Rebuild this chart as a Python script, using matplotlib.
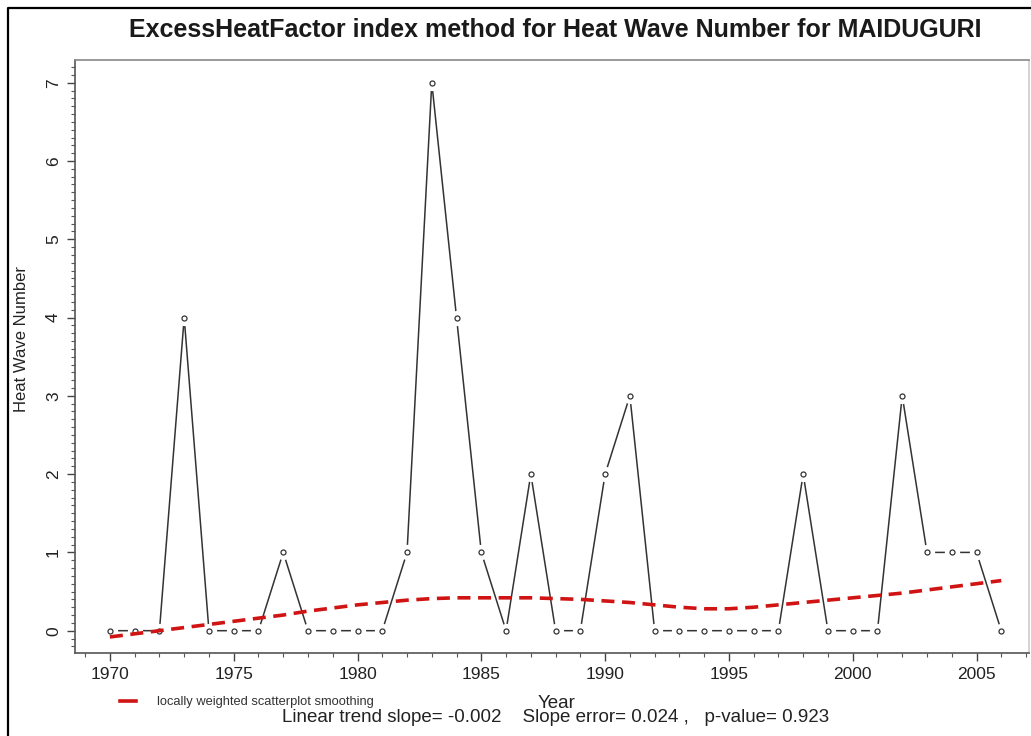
import numpy as np
import matplotlib
matplotlib.use("Agg")
import matplotlib.pyplot as plt
from matplotlib.ticker import MultipleLocator
from matplotlib.lines import Line2D

plt.rcParams['font.family'] = ['Liberation Sans', 'DejaVu Sans']

# Annual heat wave counts (Excess Heat Factor method), Maiduguri
years = list(range(1970, 2007))
heat_waves = [0, 0, 0, 4, 0, 0, 0, 1, 0, 0, 0, 0, 1, 7, 4, 1, 0, 2, 0, 0,
              2, 3, 0, 0, 0, 0, 0, 0, 2, 0, 0, 0, 3, 1, 1, 1, 0]

# Locally weighted scatterplot smoothing of the counts
lowess_fit = [-0.08, -0.04, 0.00, 0.04, 0.08, 0.12, 0.16, 0.20, 0.25, 0.29,
              0.33, 0.36, 0.39, 0.41, 0.42, 0.42, 0.42, 0.42, 0.41, 0.40,
              0.38, 0.36, 0.33, 0.30, 0.28, 0.28, 0.30, 0.33, 0.36, 0.39,
              0.42, 0.45, 0.48, 0.52, 0.56, 0.60, 0.64]

title = "ExcessHeatFactor index method for Heat Wave Number for MAIDUGURI"
x_label = "Year"
y_label = "Heat Wave Number"
legend_label = "locally weighted scatterplot smoothing"
trend_text = "Linear trend slope= -0.002    Slope error= 0.024 ,   p-value= 0.923"

W, H = 1031, 736
fig = plt.figure(figsize=(W / 100, H / 100), dpi=100)
fig.patch.set_facecolor('white')

ax = fig.add_axes([75 / W, 1 - 653 / H, (1029 - 75) / W, (653 - 60) / H])
ax.set_xlim(1968.59, 2007.12)
ax.set_ylim(-0.285, 7.29)

# Line with gaps around the points (R type="b" look)
ax.plot(years, heat_waves, color='#333333', lw=1.1, zorder=2)
ax.plot(years, heat_waves, ls='none', marker='o', ms=11, mfc='white',
        mec='none', zorder=3)
ax.plot(years, heat_waves, ls='none', marker='o', ms=3.6, mfc='white',
        mec='#333333', mew=0.9, zorder=4)

# Smoothed curve
ax.plot(years, lowess_fit, color='#d01414', lw=2.6, ls=(0, (3.6, 2.1)),
        zorder=5, dash_capstyle='butt')

# Axes styling
for side in ['left', 'right', 'top', 'bottom']:
    ax.spines[side].set_color('#555555')
    ax.spines[side].set_linewidth(1.2)
ax.spines['top'].set_color('#888888')
ax.spines['right'].set_color('#cccccc')

ax.xaxis.set_major_locator(MultipleLocator(5))
ax.xaxis.set_minor_locator(MultipleLocator(1))
ax.yaxis.set_major_locator(MultipleLocator(1))
ax.yaxis.set_minor_locator(MultipleLocator(0.1))
ax.tick_params(which='major', length=6, width=1.0, color='#444444',
               labelsize=12.5, labelcolor='#222222')
ax.tick_params(which='minor', length=3, width=0.8, color='#555555')
ax.tick_params(axis='x', pad=4)
ax.tick_params(axis='y', pad=4)
plt.setp(ax.get_yticklabels(), rotation=90, va='center')

# Titles and labels
fig.text(555 / W, 1 - 30 / H, title, ha='center', va='center',
         fontsize=18, fontweight='bold', color='#1a1a1a')
fig.text(22 / W, 1 - 339 / H, y_label, ha='center', va='center',
         rotation=90, fontsize=12, color='#222222')
fig.text(557 / W, 1 - 703 / H, x_label, ha='center', va='center',
         fontsize=13.5, color='#222222')
fig.text(556 / W, 1 - 718 / H, trend_text, ha='center', va='center',
         fontsize=13.5, color='#222222')

# Legend entry for the smoothed curve
fig.add_artist(Line2D([120 / W, 136 / W], [1 - 701 / H, 1 - 701 / H],
                      color='#d01414', lw=2.6, transform=fig.transFigure))
fig.text(157 / W, 1 - 702 / H, legend_label, ha='left', va='center',
         fontsize=9.3, color='#333333')

# Outer frame (left and top edges)
fig.add_artist(Line2D([8 / W, 8 / W, 1.0], [0.0, 1 - 8 / H, 1 - 8 / H],
                      color='black', lw=1.6, transform=fig.transFigure))

fig.savefig("out.png", dpi=100)
